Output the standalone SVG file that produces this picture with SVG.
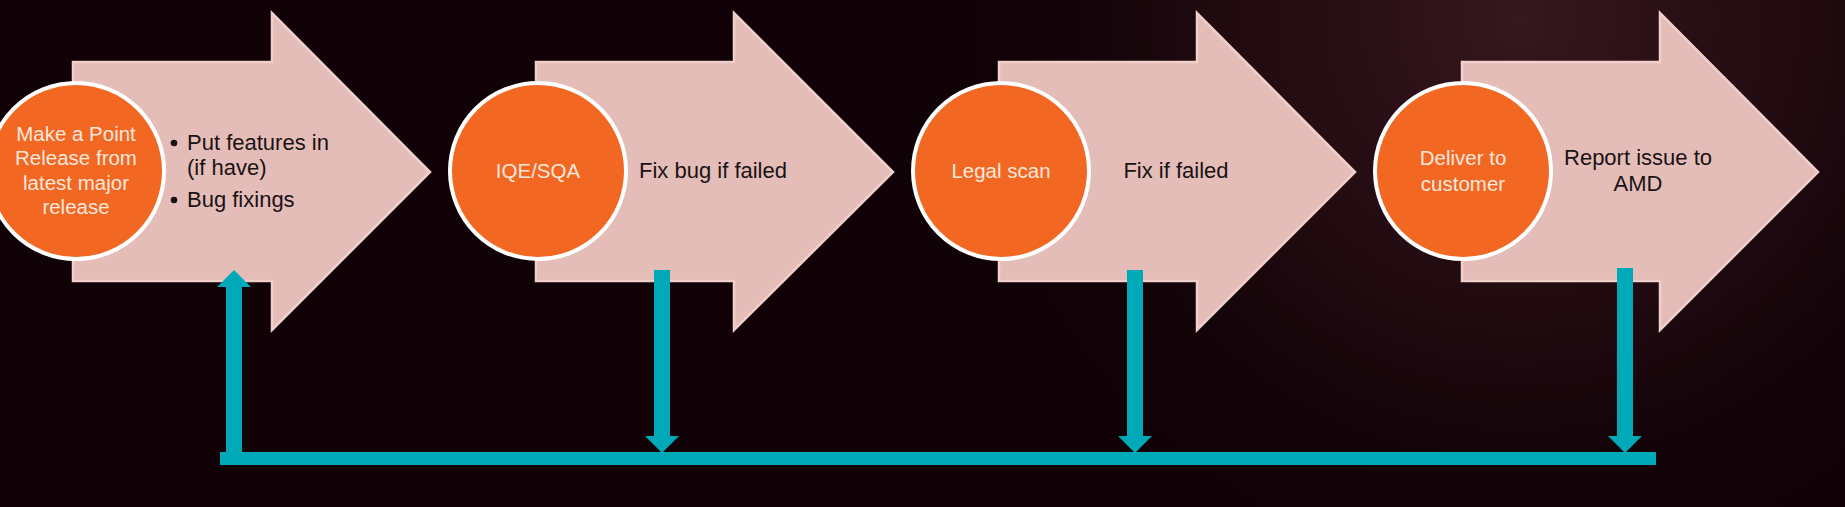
<svg xmlns="http://www.w3.org/2000/svg" width="1845" height="507" viewBox="0 0 1845 507">
  <defs>
    <radialGradient id="bgTex" cx="1520" cy="20" r="560" gradientUnits="userSpaceOnUse">
      <stop offset="0" stop-color="#3a1a21" stop-opacity="0.9"/>
      <stop offset="0.55" stop-color="#2a0f16" stop-opacity="0.6"/>
      <stop offset="1" stop-color="#120307" stop-opacity="0"/>
    </radialGradient>
    <style>
      .chev { fill: #E4BDB8; stroke: #F1D0CB; stroke-width: 2.5; stroke-linejoin: miter; }
      .circ { fill: #F26722; stroke: #FFFFFF; stroke-width: 4; }
      .ct { font-family: "Liberation Sans", Arial, sans-serif; font-size: 20.5px; fill: #FBE8DD; text-anchor: middle; }
      .bt { font-family: "Liberation Sans", Arial, sans-serif; font-size: 22px; fill: #1a1214; }
      .bc { font-family: "Liberation Sans", Arial, sans-serif; font-size: 22px; fill: #1a1214; text-anchor: middle; }
      .teal { fill: #00A9B7; }
    </style>
  </defs>

  <rect x="0" y="0" width="1845" height="507" fill="#100206"/>
  <rect x="0" y="0" width="1845" height="507" fill="url(#bgTex)"/>

  <g id="step1">
    <polygon class="chev" points="73,62 272,62 272,13 430,172 272,330 272,281 73,281"/>
    <circle class="circ" cx="76" cy="171" r="88"/>
    <text class="ct" x="76" y="141">Make a Point</text>
    <text class="ct" x="76" y="165">Release from</text>
    <text class="ct" x="76" y="190">latest major</text>
    <text class="ct" x="76" y="214">release</text>
    <circle cx="174" cy="143" r="3.3" fill="#1a1214"/>
    <text class="bt" x="187" y="150">Put features in</text>
    <text class="bt" x="187" y="175">(if have)</text>
    <circle cx="174" cy="200" r="3.3" fill="#1a1214"/>
    <text class="bt" x="187" y="207">Bug fixings</text>
  </g>

  <g id="step2">
    <polygon class="chev" points="536,62 734,62 734,13 893,172 734,330 734,281 536,281"/>
    <circle class="circ" cx="538" cy="171" r="88"/>
    <text class="ct" x="538" y="178">IQE/SQA</text>
    <text class="bc" x="713" y="178">Fix bug if failed</text>
  </g>

  <g id="step3">
    <polygon class="chev" points="999,62 1197,62 1197,13 1355,172 1197,330 1197,281 999,281"/>
    <circle class="circ" cx="1001" cy="171" r="88"/>
    <text class="ct" x="1001" y="178">Legal scan</text>
    <text class="bc" x="1176" y="178">Fix if failed</text>
  </g>

  <g id="step4">
    <polygon class="chev" points="1462,62 1660,62 1660,13 1818,172 1660,330 1660,281 1462,281"/>
    <circle class="circ" cx="1463" cy="171" r="88"/>
    <text class="ct" x="1463" y="165">Deliver to</text>
    <text class="ct" x="1463" y="191">customer</text>
    <text class="bc" x="1638" y="165">Report issue to</text>
    <text class="bc" x="1638" y="191">AMD</text>
  </g>

  <g id="connectors">
    <rect class="teal" x="220" y="452" width="1436" height="13"/>
    <polygon class="teal" points="226,452 226,287 217,287 234,270 251,287 242,287 242,452"/>
    <polygon class="teal" points="654,270 670,270 670,436 679,436 662,453 645,436 654,436"/>
    <polygon class="teal" points="1127,270 1143,270 1143,436 1152,436 1135,453 1118,436 1127,436"/>
    <polygon class="teal" points="1617,268 1633,268 1633,436 1642,436 1625,453 1608,436 1617,436"/>
  </g>
</svg>
